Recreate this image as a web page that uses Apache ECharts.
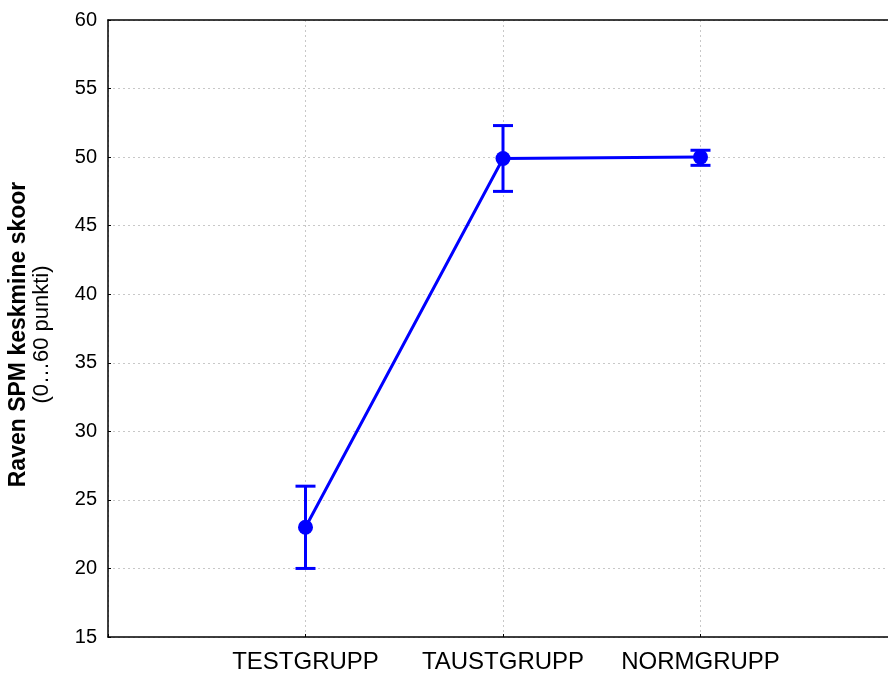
<!DOCTYPE html>
<html>
<head>
<meta charset="utf-8">
<script src="https://cdn.jsdelivr.net/npm/echarts@6/dist/echarts.min.js"></script>
<style>
  html, body { margin: 0; padding: 0; background: #fff; }
  #chart { width: 888px; height: 675px; }
</style>
</head>
<body>
<div id="chart"></div>
<script>
// andmed
var categories = ['TESTGRUPP', 'TAUSTGRUPP', 'NORMGRUPP'];
var means = [23.0, 49.9, 50.0];
var lower = [20.0, 47.5, 49.4];
var upper = [26.0, 52.3, 50.5];
var yTicks = [15, 20, 25, 30, 35, 40, 45, 50, 55, 60];

var chart = echarts.init(document.getElementById('chart'));

var lineData = means.map(function (m, i) { return [i + 1, m]; });
var errData = means.map(function (m, i) { return [i + 1, lower[i], upper[i]]; });

var blue = '#0000ff';
var font = 'Liberation Sans, Arial, sans-serif';

var option = {
  backgroundColor: '#fff',
  animation: false,
  grid: { left: 108, right: -10, top: 20, bottom: 38, containLabel: false, outerBoundsMode: 'none' },
  xAxis: [{
    type: 'value',
    min: 0, max: 4, interval: 1,
    axisLine: { show: true, lineStyle: { color: '#000', width: 1.5 } },
    axisTick: { show: true, inside: true, length: 3, lineStyle: { color: '#000' } },
    axisLabel: {
      color: '#000', fontSize: 24, fontFamily: font, margin: 13,
      formatter: function (v) { return categories[v - 1] || ''; }
    },
    splitLine: { show: true, lineStyle: { color: '#c8c8c8', type: [2, 3], width: 1 } }
  }, {
    type: 'value', position: 'top',
    min: 0, max: 4,
    axisLine: { show: true, onZero: false, lineStyle: { color: '#000', width: 1.5 } },
    axisTick: { show: false }, axisLabel: { show: false }, splitLine: { show: false }
  }],
  yAxis: {
    type: 'value',
    min: 15, max: 60, interval: 5,
    axisLine: { show: true, lineStyle: { color: '#000', width: 1.5 } },
    axisTick: { show: true, inside: true, length: 3, lineStyle: { color: '#000' } },
    axisLabel: {
      color: '#000', fontSize: 20, fontFamily: font, margin: 11,
      formatter: function (v) { return yTicks.indexOf(v) >= 0 ? String(v) : ''; }
    },
    splitLine: { show: true, lineStyle: { color: '#c8c8c8', type: [2, 3], width: 1 } },
    name: '{b|Raven SPM keskmine skoor}\n{n|(0…60 punkti)}',
    nameLocation: 'middle',
    nameRotate: 90,
    nameGap: 55,
    nameTextStyle: {
      padding: [0, 12, 0, 0],
      rich: {
        b: { fontSize: 23, fontWeight: 'bold', fontFamily: font, color: '#000', lineHeight: 23 },
        n: { fontSize: 22, fontFamily: font, color: '#000', lineHeight: 23 }
      }
    }
  },
  series: [{
    type: 'line',
    data: lineData,
    symbol: 'circle',
    symbolSize: 15,
    itemStyle: { color: blue },
    lineStyle: { color: blue, width: 3 },
    z: 3
  }, {
    type: 'custom',
    data: errData,
    z: 2,
    renderItem: function (params, api) {
      var x = api.value(0);
      var lo = api.coord([x, api.value(1)]);
      var hi = api.coord([x, api.value(2)]);
      var hw = 10;
      var st = { stroke: blue, lineWidth: 3 };
      return {
        type: 'group',
        children: [
          { type: 'line', shape: { x1: lo[0], y1: lo[1], x2: hi[0], y2: hi[1] }, style: st },
          { type: 'line', shape: { x1: lo[0] - hw, y1: lo[1], x2: lo[0] + hw, y2: lo[1] }, style: st },
          { type: 'line', shape: { x1: hi[0] - hw, y1: hi[1], x2: hi[0] + hw, y2: hi[1] }, style: st }
        ]
      };
    }
  }]
};

chart.setOption(option);
</script>
</body>
</html>
